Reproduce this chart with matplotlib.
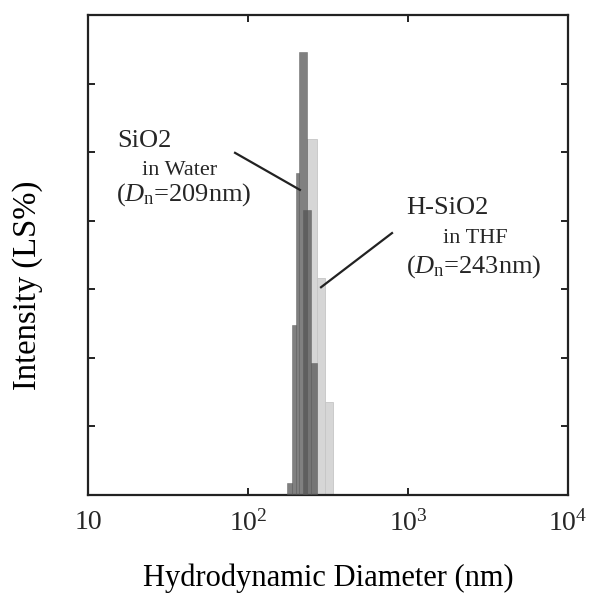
"""
DLS size distribution: SiO2 in water vs. H-SiO2 in THF (intensity weighted).
"""
import matplotlib
matplotlib.use("Agg")
import matplotlib.pyplot as plt
from matplotlib.ticker import FixedLocator, NullLocator

plt.rcParams["font.family"] = ["Liberation Serif", "DejaVu Serif"]
plt.rcParams["mathtext.fontset"] = "custom"
plt.rcParams["mathtext.rm"] = "Liberation Serif"
plt.rcParams["mathtext.it"] = "Liberation Serif:italic"
plt.rcParams["text.color"] = "#262626"

# ── data ──────────────────────────────────────────────────────────────────────
water_left_nm  = [175.3, 188.4, 199.5, 208.4, 220.7, 247.6]
water_right_nm = [188.4, 199.5, 208.4, 233.8, 247.6, 270.0]
water_height   = [1.8, 24.8, 47.0, 64.6, 41.6, 19.2]

thf_left_nm    = [233.8, 270.0, 303.0]
thf_right_nm   = [270.0, 303.0, 340.0]
thf_height     = [51.9, 31.6, 13.6]

x_ticks       = [10, 100, 1000, 10000]
x_tick_labels = ["10", r"$10^2$", r"$10^3$", r"$10^4$"]
y_ticks       = [10, 20, 30, 40, 50, 60]


def widths(lefts, rights):
    return [r - l for l, r in zip(lefts, rights)]


fig = plt.figure(figsize=(5.92, 5.94), dpi=100)
ax = fig.add_axes([0.1486, 0.1667, 0.811, 0.808])

ax.bar(thf_left_nm, thf_height, width=widths(thf_left_nm, thf_right_nm), align="edge",
       color="#d6d6d6", edgecolor="#c6c6c6", linewidth=0.6, zorder=2)
ax.bar(water_left_nm, water_height, width=widths(water_left_nm, water_right_nm), align="edge",
       color="#555555", alpha=0.75, edgecolor="#555555", linewidth=0.4, zorder=3)

ax.set_xscale("log")
ax.set_xlim(10, 10000)
ax.set_ylim(0, 70)

ax.xaxis.set_major_locator(FixedLocator(x_ticks))
ax.xaxis.set_minor_locator(NullLocator())
ax.set_xticklabels(x_tick_labels)
ax.set_yticks(y_ticks)
ax.set_yticklabels([])

ax.tick_params(axis="both", direction="in", length=5, width=1.4, color="#222222",
               top=True, right=True, labelsize=20, pad=11, labelcolor="#262626")
for s in ax.spines.values():
    s.set_linewidth(1.6)
    s.set_color("#222222")

ax.set_xlabel("Hydrodynamic Diameter (nm)", fontsize=22)
ax.xaxis.set_label_coords(0.5, -0.143)
ax.set_ylabel("Intensity (LS%)", fontsize=23.5)
ax.yaxis.set_label_coords(-0.094, 0.4375)

# ── annotations ───────────────────────────────────────────────────────────────
ax.text(15.2, 50.75, "SiO2", fontsize=19, va="baseline")
ax.text(21.8, 46.7, "in Water", fontsize=16, va="baseline")
ax.text(15.0, 43.0, r"($\mathit{D}_\mathrm{n}$=209nm)", fontsize=19, va="baseline")
ax.plot([83.0, 211.0], [49.9, 44.5], color="#222222", lw=1.6, zorder=4)

ax.text(971, 41.0, "H-SiO2", fontsize=19, va="baseline")
ax.text(1656, 36.75, "in THF", fontsize=16, va="baseline")
ax.text(971, 32.4, r"($\mathit{D}_\mathrm{n}$=243nm)", fontsize=19, va="baseline")
ax.plot([794, 286], [38.2, 30.3], color="#222222", lw=1.6, zorder=4)

fig.savefig("out.png", dpi=100)
